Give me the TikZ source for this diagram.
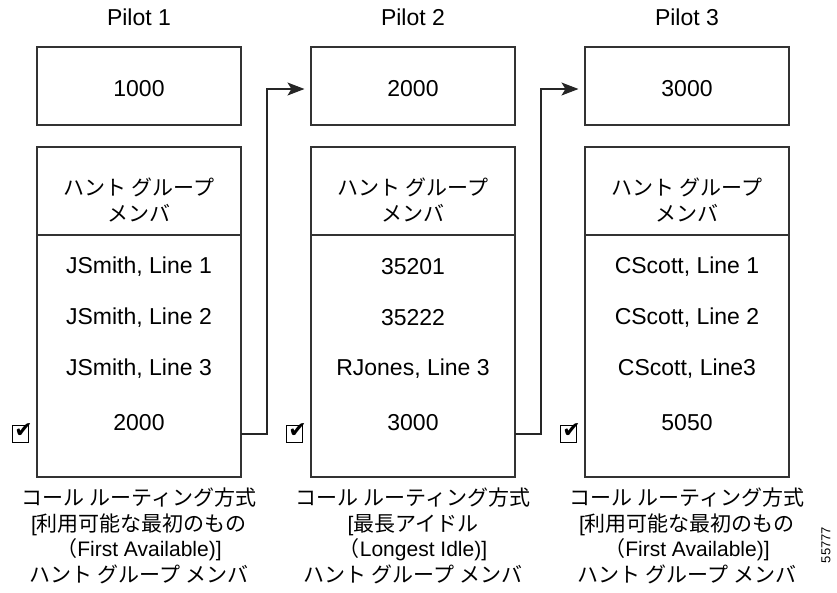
\documentclass[tikz,border=0pt]{standalone}
\usepackage{fontspec}
\setmainfont{Liberation Sans}
\newfontfamily\latf{Liberation Sans}
\newfontfamily\jp{Noto Sans CJK JP}
\newfontfamily\sym{DejaVu Sans}
\usetikzlibrary{arrows.meta}
\newcommand{\lb}{{\latf\symbol{91}}}
\begin{document}
\begin{tikzpicture}[x=1pt,y=-1pt,
  boxline/.style={draw=black!80, line width=1.1pt},
  topbox/.style={boxline, minimum width=204pt, minimum height=78pt, inner sep=0pt},
  lowbox/.style={boxline, minimum width=204pt, minimum height=330pt, inner sep=0pt},
  lat/.style={font=\fontsize{23}{26}\selectfont, inner sep=0pt},
  jpt/.style={font=\jp\fontsize{21}{26}\selectfont, inner sep=0pt, align=center},
  capt/.style={font=\jp\fontsize{21}{25.6}\selectfont, inner sep=0pt, align=center},
  chkbox/.style={draw=black, line width=1.2pt, minimum width=16pt, minimum height=17pt, inner sep=0pt},
  chkmark/.style={font=\sym\fontsize{22}{24}\selectfont, inner sep=0pt},
  conn/.style={draw=black!85, line width=1.1pt},
  arr/.style={conn, -{Stealth[length=17pt,width=13pt,inset=4pt]}, shorten >=6pt}
]
\useasboundingbox (0,0) rectangle (837,592);

\foreach \i/\x/\num/\ra/\rb/\rc/\rd in {1/139/1000/{JSmith, Line 1}/{JSmith, Line 2}/{JSmith, Line 3}/2000,
  2/413/2000/35201/35222/{RJones, Line 3}/3000,
  3/687/3000/{CScott, Line 1}/{CScott, Line 2}/{CScott, Line3}/5050}{
  \node[lat] (pilot\i) at (\x,17) {Pilot \i};
  \node[topbox] (top\i) at (\x,86) {};
  \node[lat] (num\i) at (\x,89) {\num};
  \node[lowbox] (low\i) at (\x,312) {};
  \draw[boxline] (\x-102,235) coordinate (dl\i) -- (\x+102,235) coordinate (dr\i);
  \node[jpt] (hdr\i) at (\x,200) {ハント グループ\\メンバ};
  \node[lat] (ra\i) at (\x,267) {\ra};
  \node[lat] (rb\i) at (\x,318) {\rb};
  \node[lat] (rc\i) at (\x,369) {\rc};
  \node[lat] (rd\i) at (\x,423) {\rd};
  \node[chkbox] (chk\i) at (\x-118.5,434) {};
  \node[chkmark] (mark\i) at (\x-115.5,430.5) {✔};
}

\node[capt] (cap1) at (139,536) {コール ルーティング方式\\\lb 利用可能な最初のもの\\（{\latf First Available)]}\\ハント グループ メンバ};
\node[capt] (cap2) at (413,536) {コール ルーティング方式\\\lb 最長アイドル\\（{\latf Longest Idle)]}\\ハント グループ メンバ};
\node[capt] (cap3) at (687,536) {コール ルーティング方式\\\lb 利用可能な最初のもの\\（{\latf First Available)]}\\ハント グループ メンバ};

\node[font=\fontsize{13}{15}\selectfont, rotate=90, inner sep=0pt] (fig) at (826,545) {55777};

\coordinate (s1) at (241,434);
\coordinate (k1) at (267,434);
\coordinate (s2) at (515,434);
\coordinate (k2) at (541,434);
\draw[arr] (s1) -- (k1) |- (top2.west |- num2);
\draw[arr] (s2) -- (k2) |- (top3.west |- num3);
\end{tikzpicture}
\end{document}
